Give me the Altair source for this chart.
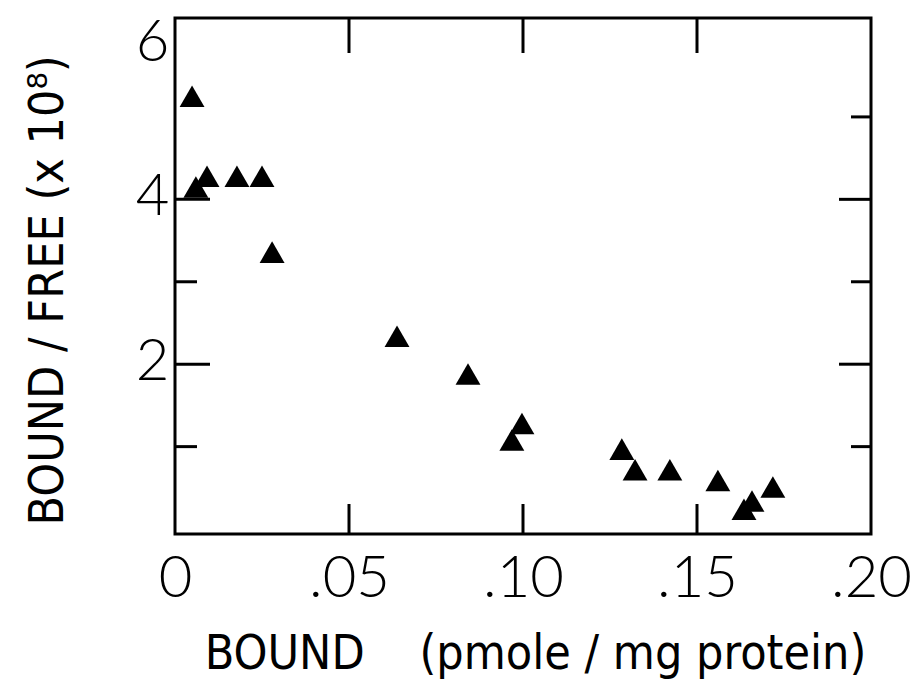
import altair as alt
import pandas as pd

# data
bound = [0.0049, 0.0092, 0.0060, 0.0178, 0.0250, 0.0279, 0.0638, 0.0842, 0.0997, 0.0968,
         0.1284, 0.1322, 0.1422, 0.1560, 0.1658, 0.1635, 0.1718]
bound_free = [5.25, 4.28, 4.15, 4.28, 4.28, 3.36, 2.34, 1.88, 1.28, 1.08,
              0.97, 0.72, 0.72, 0.59, 0.34, 0.24, 0.51]
x_tick_labels = [0, 0.05, 0.10, 0.15, 0.20]
y_tick_labels = [2, 4, 6]
x_inner_ticks = [0.05, 0.10, 0.15]
y_major_ticks = [2, 4]
y_minor_left = [1, 3]
y_minor_right = [1, 3, 5]

W, H = 696, 516
xs = alt.Scale(domain=[0, 0.20], nice=False, zero=False)
ys = alt.Scale(domain=[-0.06, 6.2], nice=False, zero=False)

df = pd.DataFrame({"b": bound, "bf": bound_free})

TITLE_FONT = "DejaVu Sans Condensed, Liberation Sans, sans-serif"
NB = "\u00a0"

x_axis = alt.Axis(
    values=x_tick_labels, ticks=False, domain=False, grid=False,
    labelExpr="datum.value == 0 ? '0' : replace(format(datum.value, '.2f'), '0.', '.')",
    labelFont="Lato", labelFontWeight=300, labelFontSize=58, labelColor="black",
    labelPadding=16, labelFlush=False, labelOverlap=False,
    title="BOUND" + NB * 4 + "(pmole / mg protein)", titleFont=TITLE_FONT,
    titleFontWeight="normal", titleFontSize=48, titleColor="black",
    titleX=360, titleY=134, titleAlign="center", titleBaseline="alphabetic", titleAnchor="middle",
)
y_axis = alt.Axis(
    values=y_tick_labels, ticks=False, domain=False, grid=False,
    labelExpr="format(datum.value, 'd')",
    labelFont="Lato", labelFontWeight=300, labelFontSize=58, labelColor="black",
    labelOffset=alt.condition("datum.value == 6", alt.value(9), alt.value(-2)),
    labelPadding=6, labelFlush=False, labelOverlap=False,
    title="BOUND / FREE (x" + NB + "10⁸)", titleFont=TITLE_FONT,
    titleFontWeight="normal", titleFontSize=48, titleColor="black",
    titleX=-113, titleY=272, titleAngle=270, titleAlign="center", titleBaseline="alphabetic",
)

points = alt.Chart(df).mark_point(shape="triangle-up", filled=True, color="black",
                                  opacity=1, size=620).encode(
    x=alt.X("b:Q", scale=xs, axis=x_axis),
    y=alt.Y("bf:Q", scale=ys, axis=y_axis),
)

xt = pd.DataFrame({"v": x_inner_ticks})
bottom_ticks = alt.Chart(xt).mark_rule(color="black", strokeWidth=3).encode(
    x=alt.X("v:Q", scale=xs), y=alt.value(H), y2=alt.value(H - 30))
top_ticks = alt.Chart(xt).mark_rule(color="black", strokeWidth=3).encode(
    x=alt.X("v:Q", scale=xs), y=alt.value(0), y2=alt.value(35))

ymaj = pd.DataFrame({"v": y_major_ticks})
yminl = pd.DataFrame({"v": y_minor_left})
yminr = pd.DataFrame({"v": y_minor_right})
left_major = alt.Chart(ymaj).mark_rule(color="black", strokeWidth=3).encode(
    y=alt.Y("v:Q", scale=ys), x=alt.value(0), x2=alt.value(35))
left_minor = alt.Chart(yminl).mark_rule(color="black", strokeWidth=3).encode(
    y=alt.Y("v:Q", scale=ys), x=alt.value(0), x2=alt.value(22))
right_major = alt.Chart(ymaj).mark_rule(color="black", strokeWidth=3).encode(
    y=alt.Y("v:Q", scale=ys), x=alt.value(W - 32), x2=alt.value(W))
right_minor = alt.Chart(yminr).mark_rule(color="black", strokeWidth=3).encode(
    y=alt.Y("v:Q", scale=ys), x=alt.value(W - 20), x2=alt.value(W))

chart = alt.layer(points, bottom_ticks, top_ticks, left_major, left_minor,
                  right_major, right_minor).properties(
    width=W, height=H,
    autosize=alt.AutoSizeParams(type="none"),
    padding={"left": 175, "top": 18, "right": 43, "bottom": 156},
    background="white",
).configure_view(stroke="black", strokeWidth=3)

chart.save("out.html", embed_options={"renderer": "svg", "actions": False})
